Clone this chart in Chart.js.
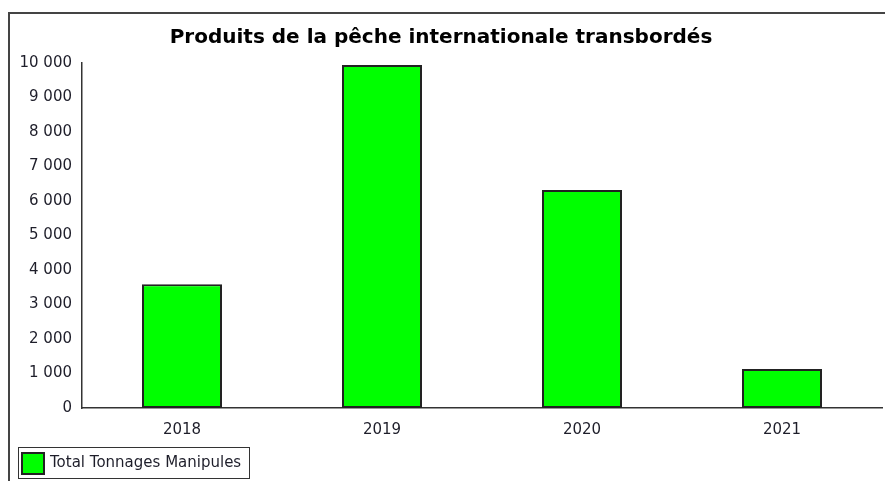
<!DOCTYPE html>
<html>
<head>
<meta charset="utf-8">
<script src="https://cdn.jsdelivr.net/npm/chart.js@4"></script>
<style>
  html, body { margin: 0; padding: 0; background: #fff; overflow: hidden; }
  #wrap { width: 885px; height: 481px; }
</style>
</head>
<body>
<div id="wrap"><canvas id="chart" width="885" height="481"></canvas></div>
<script>
// data
const years = ['2018', '2019', '2020', '2021'];
const tonnages = [3590, 9940, 6320, 1130];
const seriesLabel = 'Total Tonnages Manipules';
const chartTitle = 'Produits de la pêche internationale transbordés';

const FONT = "'DejaVu Sans', Tahoma, Verdana, sans-serif";
const TEXT = '#1e1e2a';

function fmt(v){
    return String(v).replace(/\B(?=(\d{3})+(?!\d))/g, ' ');
}

// frame round the chart + boxed legend at the bottom left
const frameAndLegend = {
    id: 'frameAndLegend',
    afterDraw(chart){
        const ctx = chart.ctx;
        ctx.save();
        // frame (left + top only, right/bottom fall outside the picture)
        ctx.strokeStyle = '#444';
        ctx.lineWidth = 2;
        ctx.beginPath();
        ctx.moveTo(9, 481);
        ctx.lineTo(9, 13);
        ctx.lineTo(885, 13);
        ctx.stroke();

        // legend box
        ctx.lineWidth = 1;
        ctx.strokeStyle = '#333';
        ctx.strokeRect(18.5, 447.5, 231, 31);
        ctx.fillStyle = '#00ff00';
        ctx.fillRect(21, 452, 24, 23);
        ctx.lineWidth = 2;
        ctx.strokeStyle = '#222';
        ctx.strokeRect(22, 453, 22, 21);

        ctx.beginPath();
        ctx.rect(19, 448, 229, 30);
        ctx.clip();
        ctx.fillStyle = TEXT;
        ctx.font = '15px ' + FONT;
        ctx.textBaseline = 'middle';
        ctx.fillText(chart.data.datasets[0].label, 50, 463);
        ctx.restore();
    }
};

new Chart(document.getElementById('chart'), {
    type: 'bar',
    data: {
        labels: years,
        datasets: [{
            label: seriesLabel,
            data: tonnages,
            backgroundColor: '#00ff00',
            borderColor: '#222',
            borderWidth: 2,
            borderSkipped: false,
            barPercentage: 0.4,
            categoryPercentage: 1.0
        }]
    },
    options: {
        responsive: false,
        animation: false,
        layout: { padding: { left: 0, right: 3, top: 0, bottom: 0 } },
        plugins: {
            legend: { display: false },
            tooltip: { enabled: false },
            title: {
                display: true,
                text: chartTitle,
                color: '#000',
                font: { family: FONT, size: 20, weight: 'bold' },
                padding: { top: 26, bottom: 13 }
            }
        },
        scales: {
            x: {
                grid: { display: false, drawTicks: false },
                border: { display: true, color: '#333', width: 1.5 },
                ticks: { color: TEXT, font: { family: FONT, size: 15 }, padding: 13 },
                afterFit(scale){ scale.height = 73; }
            },
            y: {
                min: 0,
                max: 10000,
                grid: { display: false, drawTicks: false },
                border: { display: true, color: '#333', width: 1.5 },
                ticks: {
                    stepSize: 1000,
                    color: TEXT,
                    font: { family: FONT, size: 15 },
                    padding: 10,
                    callback: v => fmt(v)
                },
                afterFit(scale){ scale.width = 82; }
            }
        }
    },
    plugins: [frameAndLegend]
});
</script>
</body>
</html>
